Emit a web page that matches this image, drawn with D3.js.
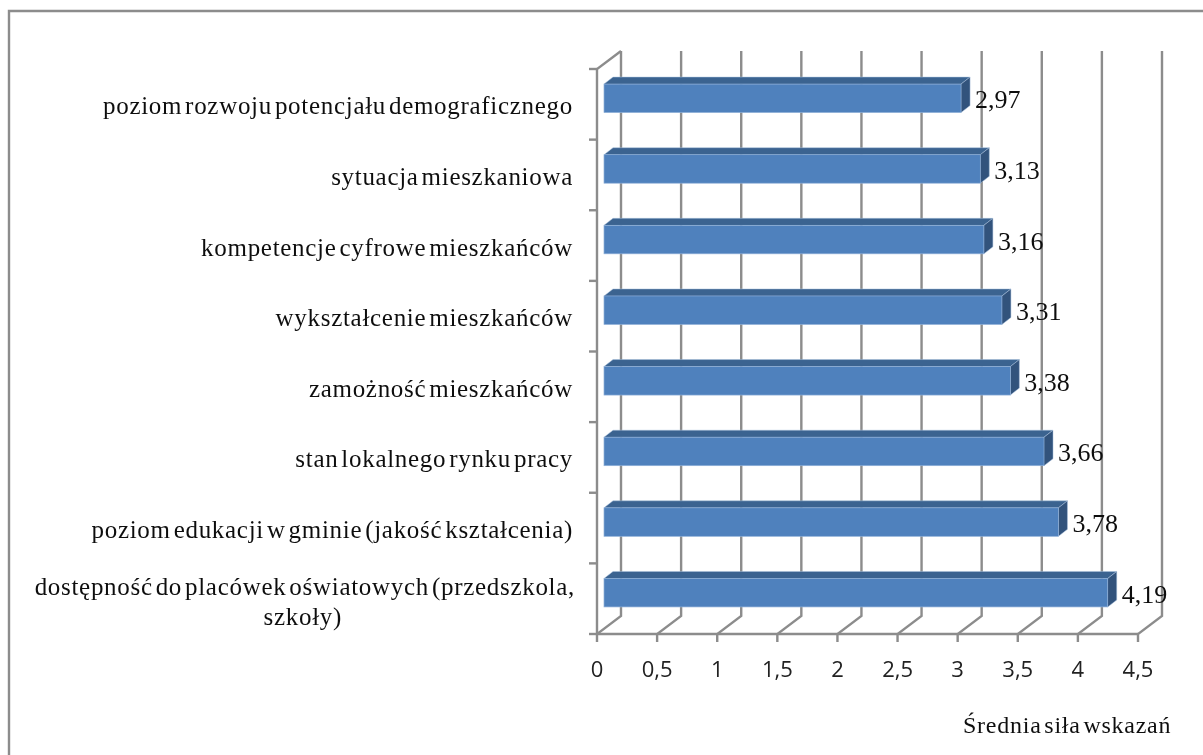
<!DOCTYPE html>
<html><head><meta charset="utf-8">
<script src="https://cdn.jsdelivr.net/npm/d3@7/dist/d3.min.js"></script>
<style>html,body{margin:0;padding:0;background:#fff}svg{display:block}</style>
</head><body><svg id="c" width="1203" height="755"></svg>
<script>
const categories = [
  ["poziom rozwoju potencjału demograficznego"],
  ["sytuacja mieszkaniowa"],
  ["kompetencje cyfrowe mieszkańców"],
  ["wykształcenie mieszkańców"],
  ["zamożność mieszkańców"],
  ["stan lokalnego rynku pracy"],
  ["poziom edukacji w gminie (jakość kształcenia)"],
  ["dostępność do placówek oświatowych (przedszkola,", "szkoły)"]
];
const values = [2.97, 3.13, 3.16, 3.31, 3.38, 3.66, 3.78, 4.19];
const xTicks = [0, 0.5, 1, 1.5, 2, 2.5, 3, 3.5, 4, 4.5];
const axisTitle = "Średnia siła wskazań";

const svg = d3.select("#c");
const defs = svg.append("defs");
defs.append("filter").attr("id", "soft").attr("x", 0).attr("y", 0).attr("width", 1).attr("height", 1)
  .append("feGaussianBlur").attr("stdDeviation", 0.4);
const root = svg.append("g").attr("filter", "url(#soft)");
root.append("rect").attr("width", 1203).attr("height", 755).attr("fill", "#fff");

const GRID = "#8c8c8c";
const x = d3.scaleLinear().domain([0, 4.5]).range([597, 1138]);
const y = d3.scaleBand().domain(d3.range(categories.length)).range([69, 634]);
const wall = {dx: 24, dy: -18};
const barD = {dx: 9, dy: -7};
const barH = 28.5, barInset = 7;
const fmt = v => String(v).replace(".", ",");

root.append("path").attr("fill", "none").attr("stroke", GRID).attr("stroke-width", 2.4)
  .attr("d", d3.line()([[9, 760], [9, 11], [1210, 11]]));

// walls
const g = root.append("g").attr("fill", "none").attr("stroke", GRID).attr("stroke-width", 2.4);
xTicks.forEach(t => {
  g.append("path").attr("d", d3.line()([
    [x(t), 634 + 8], [x(t), 634], [x(t) + wall.dx, 634 + wall.dy], [x(t) + wall.dx, 69 + wall.dy]
  ]));
});
g.append("line").attr("x1", x(0)).attr("x2", x(4.5)).attr("y1", 634).attr("y2", 634);
g.append("path").attr("d", d3.line()([[x(0), 634], [x(0), 69], [x(0) + wall.dx, 69 + wall.dy]]));
d3.range(categories.length + 1).forEach(i => {
  const yy = i < categories.length ? y(i) : 634;
  g.append("line").attr("x1", x(0) - 8).attr("x2", x(0)).attr("y1", yy).attr("y2", yy);
});

// bars
const bx = v => x(v) + barInset;
const by = i => y(i) + y.bandwidth() / 2 - barH / 2 - 6;
const bars = root.append("g").selectAll("g").data(values).join("g");
bars.append("path").attr("fill", "#3b6390").attr("stroke", "#a9c0dc").attr("stroke-width", 0.5)
  .attr("d", (v, i) => d3.line()([[bx(0), by(i)], [bx(0) + barD.dx, by(i) + barD.dy], [bx(v) + barD.dx, by(i) + barD.dy], [bx(v), by(i)]]));
bars.append("path").attr("fill", "#31527c").attr("stroke", "#a9c0dc").attr("stroke-width", 0.5)
  .attr("d", (v, i) => d3.line()([[bx(v), by(i)], [bx(v) + barD.dx, by(i) + barD.dy], [bx(v) + barD.dx, by(i) + barD.dy + barH], [bx(v), by(i) + barH]]));
bars.append("rect").attr("fill", "#4f81bd").attr("stroke", "#8fb0d8").attr("stroke-width", 0.7)
  .attr("x", bx(0)).attr("y", (v, i) => by(i)).attr("width", v => bx(v) - bx(0)).attr("height", barH);

// category labels
const serif = "'Liberation Serif', serif";
const catG = root.append("g").attr("font-family", serif).attr("font-size", 25).attr("fill", "#111")
  .attr("letter-spacing", 0.7).attr("word-spacing", -4).attr("text-anchor", "end");
categories.forEach((lines, i) => {
  const cy = by(i) + barH / 2;
  if (lines.length === 1) {
    catG.append("text").attr("x", 573).attr("y", cy + 16).text(lines[0]);
  } else {
    catG.append("text").attr("x", 575).attr("y", cy + 2).text(lines[0]);
    catG.append("text").attr("x", 342).attr("y", cy + 32).text(lines[1]);
  }
});

// data labels
root.append("g").attr("font-family", serif).attr("font-size", 26).attr("fill", "#111")
  .selectAll("text").data(values).join("text")
  .attr("x", v => bx(v) + 14).attr("y", (v, i) => by(i) + barH / 2 + 10)
  .text(fmt);

// tick labels
root.append("g").attr("font-family", "'Open Sans', sans-serif").attr("font-size", 22).attr("fill", "#222").attr("text-anchor", "middle")
  .selectAll("text").data(xTicks).join("text")
  .attr("x", d => x(d)).attr("y", 677).text(fmt);

root.append("text").attr("x", 963).attr("y", 733).attr("font-family", serif).attr("font-size", 24)
  .attr("letter-spacing", 0.75).attr("word-spacing", -4).attr("fill", "#111").text(axisTitle);
</script></body></html>
